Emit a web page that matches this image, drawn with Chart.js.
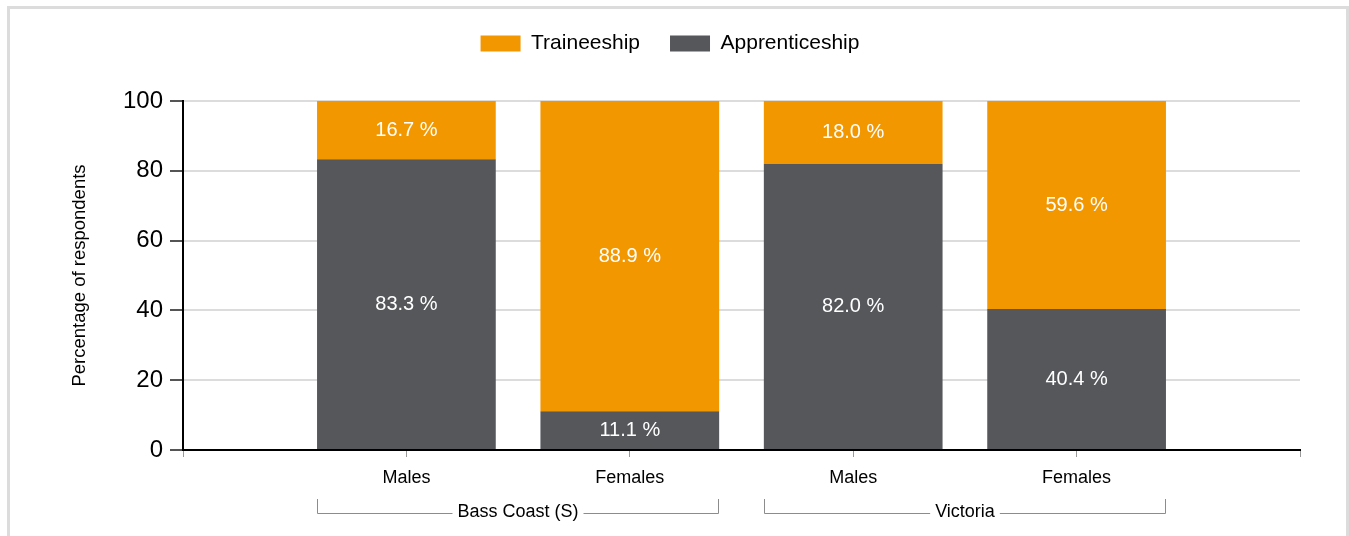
<!DOCTYPE html>
<html>
<head>
<meta charset="utf-8">
<script src="https://cdn.jsdelivr.net/npm/chart.js@4/dist/chart.umd.min.js"></script>
<style>
    html, body { margin: 0; padding: 0; background: #fff; overflow: hidden; }
    #frame {
        position: absolute; left: 7px; top: 6px; width: 1342px; height: 600px;
        box-sizing: border-box; border: 3px solid #dcdcdc; border-bottom: none;
    }
    #chart1 { position: absolute; left: 0; top: 0; }
</style>
</head>
<body>
<div id="frame"></div>
<canvas id="chart1" width="1349" height="536"></canvas>
<script>
// categories (empty slots at both ends keep the bars away from the axes)
const categories = ['', 'Males', 'Females', 'Males', 'Females', ''];
const apprenticeship = [null, 83.3, 11.1, 82.0, 40.4, null];
const traineeship = [null, 16.7, 88.9, 18.0, 59.6, null];

// groups under the axis
const groupLabels = ['Bass Coast (S)', 'Victoria'];
const groupFirst = [1, 3];
const groupLast = [2, 4];

const yMin = 0;
const yMax = 100;
const yStep = 20;

Chart.defaults.font.family = "'Liberation Sans', Arial, sans-serif";
Chart.defaults.color = '#000';

// fixed legend height so the plot starts where the original one does
var legendHeight = {
    id: 'legendHeight',
    beforeInit: function (chart) {
        const fit = chart.legend.fit;
        chart.legend.fit = function () {
            fit.bind(chart.legend)();
            this.height = 98;
        };
    }
};

var segmentLabels = {
    id: 'segmentLabels',
    afterDatasetsDraw: function (chart) {
        const ctx = chart.ctx;
        ctx.save();
        ctx.fillStyle = '#fff';
        ctx.font = "20px 'Liberation Sans', Arial, sans-serif";
        ctx.textAlign = 'center';
        ctx.textBaseline = 'middle';
        chart.data.datasets.forEach(function (ds, di) {
            chart.getDatasetMeta(di).data.forEach(function (bar, i) {
                if (ds.data[i] == null) return;
                ctx.fillText(ds.data[i].toFixed(1) + ' %', bar.x, (bar.y + bar.base) / 2);
            });
        });
        ctx.restore();
    }
};

var groupBrackets = {
    id: 'groupBrackets',
    afterDraw: function (chart) {
        const ctx = chart.ctx;
        const meta = chart.getDatasetMeta(0);
        const yTop = 499, yLine = 513.5;
        ctx.save();
        ctx.font = "18px 'Liberation Sans', Arial, sans-serif";
        ctx.textAlign = 'center';
        ctx.textBaseline = 'middle';
        ctx.strokeStyle = '#8c8c8c';
        ctx.lineWidth = 1;
        for (let g = 0; g < groupLabels.length; g++) {
            const a = meta.data[groupFirst[g]];
            const b = meta.data[groupLast[g]];
            const left = Math.round(a.x - a.width / 2) + 0.5;
            const right = Math.round(b.x + b.width / 2) - 0.5;
            const mid = (left + right) / 2;
            const half = ctx.measureText(groupLabels[g]).width / 2 + 5;
            ctx.beginPath();
            ctx.moveTo(left, yTop);
            ctx.lineTo(left, yLine);
            ctx.lineTo(mid - half, yLine);
            ctx.moveTo(mid + half, yLine);
            ctx.lineTo(right, yLine);
            ctx.lineTo(right, yTop);
            ctx.stroke();
            ctx.fillStyle = '#000';
            ctx.fillText(groupLabels[g], mid, yLine - 1);
        }
        ctx.restore();
    }
};

const data = {
    labels: categories,
    datasets: [{
        label: 'Apprenticeship',
        backgroundColor: '#55575b',
        data: apprenticeship
    }, {
        label: 'Traineeship',
        backgroundColor: '#f39700',
        data: traineeship
    }]
};

const config = {
    type: 'bar',
    data: data,
    options: {
        responsive: false,
        animation: false,
        barPercentage: 0.8,
        categoryPercentage: 1.0,
        layout: {
            padding: { left: 40, right: 49, top: 3, bottom: 0 }
        },
        plugins: {
            legend: {
                display: true,
                position: 'top',
                reverse: true,
                labels: {
                    boxWidth: 40,
                    boxHeight: 16,
                    padding: 30,
                    color: '#000',
                    font: { size: 21 }
                }
            },
            tooltip: { enabled: false }
        },
        scales: {
            x: {
                stacked: true,
                offset: false,
                afterFit: function (scale) { scale.height = 86; },
                grid: {
                    offset: false,
                    drawOnChartArea: false,
                    drawTicks: true,
                    tickLength: 7,
                    color: '#999'
                },
                border: { color: '#000', width: 2 },
                ticks: {
                    padding: 10,
                    color: '#000',
                    font: { size: 18 },
                    maxRotation: 0,
                    autoSkip: false
                }
            },
            y: {
                stacked: true,
                min: yMin,
                max: yMax,
                afterFit: function (scale) { scale.width = 143; },
                grid: {
                    color: '#dcdcdc',
                    lineWidth: 2,
                    tickColor: '#555',
                    tickLength: 13
                },
                border: { color: '#000', width: 2 },
                ticks: {
                    stepSize: yStep,
                    padding: 7,
                    color: '#000',
                    font: { size: 24 }
                },
                title: {
                    display: true,
                    text: 'Percentage of respondents',
                    color: '#000',
                    font: { size: 18.5 },
                    padding: { top: 29, bottom: 0 }
                }
            }
        }
    },
    plugins: [legendHeight, segmentLabels, groupBrackets]
};

var chart1 = new Chart(document.getElementById('chart1'), config);
</script>
</body>
</html>
